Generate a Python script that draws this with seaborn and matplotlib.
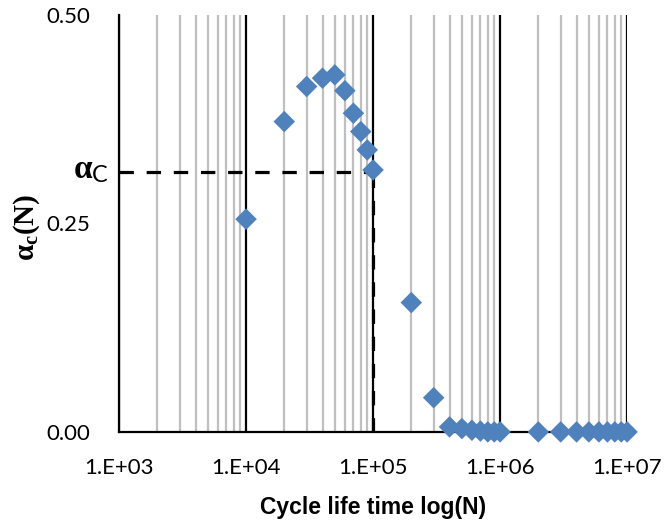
import matplotlib
matplotlib.use("Agg")
import matplotlib.pyplot as plt
import seaborn as sns
import pandas as pd
from matplotlib.ticker import LogLocator, FixedLocator

# data
cycles = [1e4, 2e4, 3e4, 4e4, 5e4, 6e4, 7e4, 8e4, 9e4, 1e5,
          2e5, 3e5, 4e5, 5e5, 6e5, 7e5, 8e5, 9e5, 1e6,
          2e6, 3e6, 4e6, 5e6, 6e6, 7e6, 8e6, 9e6, 1e7]
alpha_c = [0.255, 0.372, 0.414, 0.424, 0.428, 0.409, 0.382, 0.360, 0.338, 0.314,
           0.155, 0.041, 0.006, 0.004, 0.002, 0.001, 0.0, 0.0, 0.0,
           0.0, 0.0, 0.0, 0.0, 0.0, 0.0, 0.0, 0.0, 0.0]
alpha_crit = 0.311
n_crit = 1e5
x_ticks = [1e3, 1e4, 1e5, 1e6, 1e7]
x_tick_labels = ["1.E+03", "1.E+04", "1.E+05", "1.E+06", "1.E+07"]
y_ticks = [0.0, 0.25, 0.5]
y_tick_labels = ["0.00", "0.25", "0.50"]

df = pd.DataFrame({"N": cycles, "alpha": alpha_c})

sns.set_style("white")
plt.rcParams["font.family"] = ["Lato", "DejaVu Sans"]
plt.rcParams["text.color"] = "black"
plt.rcParams["axes.labelcolor"] = "black"
plt.rcParams["xtick.color"] = "black"
plt.rcParams["ytick.color"] = "black"
plt.rcParams["mathtext.fontset"] = "custom"
plt.rcParams["mathtext.rm"] = "Liberation Serif:bold"
plt.rcParams["mathtext.bf"] = "Liberation Serif:bold"
plt.rcParams["mathtext.it"] = "Liberation Serif:bold"
plt.rcParams["mathtext.sf"] = "Lato"

fig = plt.figure(figsize=(6.65, 5.28), dpi=100)
ax = fig.add_axes([0.179, 0.182, 0.764, 0.790])

ax.set_xscale("log")
ax.set_xlim(1e3, 1e7)
ax.set_ylim(0, 0.5)

# Excel-like vertical gridlines: grey minor, black major
ax.xaxis.set_minor_locator(LogLocator(base=10, subs=range(2, 10)))
ax.grid(which="minor", axis="x", color="#bfbfbf", lw=1.6, zorder=0)
ax.grid(which="major", axis="x", color="black", lw=1.6, zorder=0)
ax.grid(False, axis="y")
ax.set_axisbelow(True)

# dashed guide lines for the critical value
ax.plot([1e3, n_crit], [alpha_crit, alpha_crit], color="black", lw=2.3,
        dashes=(4.5, 4), zorder=1)
ax.plot([n_crit, n_crit], [0, alpha_crit], color="black", lw=2.3,
        dashes=(4.5, 4), zorder=1)

sns.scatterplot(data=df, x="N", y="alpha", marker="D", s=120, color="#4f81bd",
                edgecolor="none", ax=ax, zorder=3, clip_on=False)

ax.xaxis.set_major_locator(FixedLocator(x_ticks))
ax.set_xticklabels(x_tick_labels, fontsize=16)
ax.set_yticks(y_ticks)
ax.set_yticklabels(y_tick_labels, fontsize=16)
ax.tick_params(axis="x", which="both", length=0, pad=19, labelcolor="black")
ax.tick_params(axis="y", which="major", direction="out", length=6, width=1.5,
               color="black", labelcolor="black", pad=15)

for side in ["top", "right"]:
    ax.spines[side].set_visible(False)
ax.spines["left"].set_linewidth(1.6)
ax.spines["left"].set_color("black")
ax.spines["bottom"].set_linewidth(1.6)
ax.spines["bottom"].set_color("black")

ax.set_xlabel("Cycle life time log(N)", fontsize=16.5, fontweight="bold",
              family="Liberation Sans", labelpad=13, color="black")
ax.set_ylabel(r"$\alpha_{\mathrm{c}}\mathrm{(N)}$", fontsize=21, color="black")
ax.yaxis.set_label_coords(-0.152, 0.49)

# α_C label next to the dashed line, outside the axes
ax.text(-0.02, alpha_crit + 0.003, r"$\alpha_{\mathsf{C}}$",
        transform=ax.get_yaxis_transform(), ha="right", va="center",
        fontsize=24, color="black")

fig.savefig("out.png", dpi=100)
